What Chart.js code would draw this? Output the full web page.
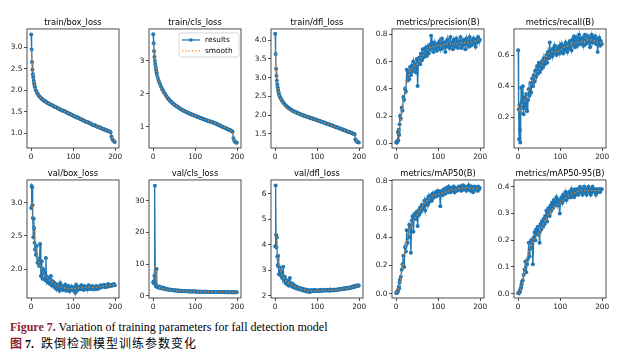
<!DOCTYPE html>
<html><head><meta charset="utf-8">
<script src="https://cdn.jsdelivr.net/npm/chart.js@4.4.1/dist/chart.umd.min.js"></script>
<style>
html,body{margin:0;padding:0;background:#fff;width:619px;height:357px;overflow:hidden;position:relative;}
canvas{position:absolute;}
.cap{position:absolute;white-space:nowrap;color:#000;}
</style></head><body>
<div class="cap" style="left:10px;top:320px;font-family:'Liberation Serif';font-size:12px;line-height:14px;"><span style="color:#8b1e2e;font-weight:bold">Figure 7.</span> Variation of training parameters for fall detection model</div>
<div class="cap" style="left:10px;top:336px;font-size:12px;line-height:14px;"><span style="color:#8b1e2e;font-weight:bold;font-family:'Noto Sans CJK SC'">图</span> <b style="font-family:'Liberation Serif'">7.</b><span style="display:inline-block;width:7px"></span><span style="font-family:'Noto Sans CJK SC';letter-spacing:1px">跌倒检测模型训练参数变化</span></div>
<script>
// ---------------- DATA ----------------
const epochs = [0,1,2,3,4,5,6,7,8,9,
 11,13,15,17,19,21,23,25,27,29,31,33,35,37,39,41,43,45,47,49,
 51,53,55,57,59,61,63,65,67,69,71,73,75,77,79,81,83,85,87,89,91,93,95,97,99,
 101,103,105,107,109,111,113,115,117,119,121,123,125,127,129,131,133,135,137,139,141,143,145,147,149,
 151,153,155,157,159,161,163,165,167,169,171,173,175,177,179,181,183,185,187,189,
 191,193,195,197,199];
const smoothEpochs = [0,2,4,6,8,10,15,20,25,30,40,50,60,70,80,90,100,110,120,130,140,150,160,170,180,187,190,193,196,199];
const xTicks = [0,100,200];
const seriesNames = ['results','smooth'];
const titles = ['train/box_loss','train/cls_loss','train/dfl_loss','metrics/precision(B)','metrics/recall(B)',
                'val/box_loss','val/cls_loss','val/dfl_loss','metrics/mAP50(B)','metrics/mAP50-95(B)'];

const trainBoxLoss = [3.30,2.95,2.66,2.48,2.37,2.30,2.22,2.16,2.11,2.07,
 2.00,1.96,1.92,1.89,1.86,1.84,1.82,1.80,1.78,1.77,1.75,1.74,1.73,1.71,1.70,1.69,1.68,1.67,1.66,1.65,
 1.64,1.63,1.62,1.61,1.60,1.59,1.58,1.57,1.56,1.55,1.54,1.53,1.52,1.52,1.51,1.50,1.49,1.48,1.47,1.46,1.45,1.44,1.43,1.42,1.41,
 1.40,1.39,1.38,1.37,1.36,1.36,1.35,1.34,1.33,1.32,1.31,1.30,1.29,1.28,1.27,1.26,1.26,1.25,1.24,1.23,1.22,1.21,1.20,1.19,1.18,
 1.18,1.17,1.16,1.15,1.14,1.14,1.13,1.12,1.11,1.10,1.09,1.09,1.08,1.07,1.06,1.06,1.05,1.04,1.03,1.02,
 0.92,0.86,0.83,0.81,0.79];
const trainClsLoss = [3.81,3.54,3.30,3.12,3.00,2.90,2.80,2.72,2.65,2.58,
 2.48,2.40,2.33,2.27,2.21,2.16,2.11,2.06,2.02,1.98,1.94,1.90,1.87,1.84,1.81,1.78,1.76,1.73,1.71,1.69,
 1.67,1.65,1.63,1.61,1.60,1.58,1.56,1.55,1.53,1.52,1.50,1.49,1.48,1.46,1.45,1.44,1.43,1.42,1.40,1.39,1.38,1.37,1.36,1.35,1.34,
 1.33,1.32,1.31,1.30,1.29,1.28,1.27,1.26,1.25,1.24,1.23,1.22,1.21,1.20,1.19,1.18,1.17,1.16,1.16,1.15,1.14,1.13,1.12,1.11,1.10,
 1.09,1.08,1.06,1.05,1.04,1.03,1.02,1.00,0.99,0.98,0.97,0.96,0.95,0.93,0.92,0.91,0.90,0.89,0.87,0.85,
 0.66,0.58,0.55,0.53,0.52];
const trainDflLoss = [4.17,3.63,3.24,3.05,2.92,2.82,2.74,2.67,2.61,2.56,
 2.50,2.45,2.41,2.37,2.34,2.31,2.28,2.26,2.24,2.22,2.20,2.18,2.17,2.15,2.14,2.12,2.11,2.10,2.09,2.08,
 2.07,2.06,2.05,2.04,2.03,2.02,2.01,2.00,1.99,1.99,1.98,1.97,1.96,1.95,1.95,1.94,1.93,1.92,1.92,1.91,1.90,1.89,1.89,1.88,1.87,
 1.86,1.85,1.85,1.84,1.83,1.82,1.81,1.81,1.80,1.79,1.78,1.77,1.77,1.76,1.75,1.74,1.73,1.73,1.72,1.71,1.70,1.69,1.68,1.68,1.67,
 1.66,1.65,1.64,1.63,1.62,1.62,1.61,1.60,1.59,1.58,1.57,1.56,1.55,1.55,1.54,1.53,1.52,1.51,1.50,1.49,
 1.36,1.31,1.29,1.28,1.27];
const precision = [0.005,0.012,0.004,0.015,0.080,0.020,0.100,0.060,0.140,0.200,
 0.18,0.26,0.24,0.34,0.32,0.40,0.38,0.54,0.46,0.52,0.47,0.56,0.50,0.57,0.53,0.60,0.55,0.58,0.52,0.62,
 0.42,0.60,0.63,0.58,0.66,0.61,0.69,0.63,0.66,0.70,0.64,0.68,0.71,0.66,0.72,0.69,0.79,0.70,0.73,0.67,0.74,0.70,0.72,0.68,0.73,
 0.71,0.75,0.69,0.73,0.77,0.70,0.74,0.72,0.67,0.75,0.71,0.76,0.73,0.70,0.78,0.72,0.74,0.69,0.76,0.73,0.71,0.77,0.74,0.70,0.75,
 0.73,0.78,0.70,0.75,0.72,0.76,0.74,0.69,0.77,0.73,0.75,0.71,0.78,0.74,0.72,0.76,0.73,0.77,0.75,0.71,
 0.76,0.74,0.78,0.75,0.76];
const recall = [0.63,0.25,0.06,0.28,0.12,0.04,0.23,0.39,0.30,0.26,
 0.40,0.22,0.33,0.26,0.35,0.24,0.31,0.38,0.34,0.42,0.36,0.45,0.40,0.47,0.43,0.50,0.46,0.53,0.48,0.55,
 0.49,0.54,0.51,0.56,0.52,0.58,0.54,0.57,0.60,0.55,0.62,0.58,0.68,0.60,0.63,0.59,0.64,0.61,0.66,0.62,0.60,0.65,0.63,0.61,0.66,
 0.62,0.67,0.64,0.61,0.66,0.63,0.68,0.65,0.62,0.67,0.64,0.69,0.66,0.63,0.70,0.67,0.72,0.65,0.68,0.71,0.66,0.69,0.73,0.67,0.70,
 0.68,0.71,0.66,0.70,0.73,0.67,0.69,0.72,0.68,0.71,0.65,0.70,0.73,0.68,0.71,0.69,0.72,0.67,0.70,0.62,
 0.68,0.71,0.66,0.69,0.67];
const valBoxLoss = [2.92,3.25,3.23,2.96,2.77,2.48,2.76,2.62,2.40,2.30,
 2.22,2.35,2.10,2.15,2.05,2.38,1.90,2.12,1.86,2.00,1.95,1.84,2.17,1.82,1.88,1.80,1.85,1.78,1.90,1.76,
 1.82,1.75,1.80,1.72,1.78,1.70,1.76,1.74,1.68,1.79,1.71,1.75,1.69,1.74,1.72,1.77,1.68,1.73,1.70,1.75,1.67,1.72,1.69,1.74,1.70,
 1.68,1.73,1.65,1.77,1.71,1.69,1.74,1.72,1.70,1.76,1.71,1.73,1.69,1.75,1.72,1.70,1.74,1.71,1.76,1.72,1.70,1.73,1.75,1.71,1.74,
 1.72,1.70,1.75,1.73,1.71,1.74,1.72,1.76,1.73,1.75,1.74,1.77,1.75,1.73,1.76,1.74,1.78,1.75,1.77,1.76,
 1.75,1.77,1.76,1.78,1.76];
const valClsLoss = [4.2,4.5,3.9,6.4,34.8,4.1,3.5,2.9,8.5,3.0,
 2.8,2.6,2.9,2.4,2.5,2.3,2.6,2.2,2.4,2.1,2.2,2.0,2.1,1.9,2.0,1.9,1.8,1.9,1.8,1.7,
 1.75,1.7,1.65,1.7,1.6,1.65,1.55,1.6,1.55,1.5,1.55,1.5,1.45,1.5,1.45,1.4,1.45,1.4,1.38,1.42,1.36,1.4,1.35,1.38,1.34,
 1.33,1.35,1.3,1.32,1.29,1.3,1.27,1.29,1.26,1.28,1.25,1.26,1.24,1.25,1.23,1.24,1.22,1.23,1.21,1.22,1.2,1.21,1.19,1.2,1.19,
 1.18,1.19,1.17,1.18,1.17,1.17,1.16,1.17,1.16,1.16,1.15,1.16,1.15,1.15,1.14,1.15,1.14,1.14,1.13,1.14,
 1.13,1.12,1.12,1.11,1.11];
const valDflLoss = [3.95,6.33,4.40,3.90,4.30,3.55,3.20,3.58,3.15,2.85,
 3.10,2.80,2.95,2.70,3.15,2.60,2.75,2.50,2.62,2.45,2.58,2.40,2.70,2.42,2.50,2.36,2.45,2.33,2.40,2.30,
 2.36,2.28,2.33,2.26,2.30,2.24,2.29,2.22,2.27,2.20,2.25,2.19,2.24,2.17,2.22,2.20,2.16,2.23,2.19,2.21,2.18,2.24,2.20,2.22,2.19,
 2.21,2.18,2.23,2.20,2.24,2.19,2.22,2.21,2.23,2.20,2.22,2.24,2.21,2.23,2.20,2.25,2.22,2.24,2.21,2.23,2.25,2.22,2.24,2.23,2.26,
 2.24,2.27,2.25,2.28,2.26,2.29,2.27,2.30,2.28,2.31,2.29,2.32,2.30,2.33,2.31,2.35,2.33,2.36,2.38,2.35,
 2.40,2.38,2.42,2.39,2.41];
const mAP50 = [0.005,0.010,0.008,0.020,0.015,0.030,0.050,0.040,0.080,0.100,
 0.12,0.17,0.21,0.27,0.19,0.33,0.30,0.45,0.36,0.40,0.49,0.47,0.29,0.52,0.55,0.44,0.54,0.57,0.53,0.58,
 0.48,0.59,0.56,0.61,0.58,0.63,0.60,0.62,0.66,0.59,0.64,0.67,0.63,0.69,0.65,0.68,0.70,0.66,0.71,0.68,0.70,0.72,0.69,0.71,0.73,
 0.70,0.72,0.62,0.71,0.73,0.70,0.74,0.72,0.71,0.75,0.73,0.72,0.76,0.74,0.72,0.75,0.73,0.74,0.76,0.72,0.75,0.74,0.73,0.75,0.76,
 0.74,0.76,0.73,0.75,0.77,0.74,0.76,0.75,0.73,0.76,0.74,0.77,0.75,0.73,0.76,0.74,0.72,0.75,0.76,0.74,
 0.75,0.73,0.76,0.74,0.75];
const mAP5095 = [0.002,0.004,0.003,0.008,0.006,0.015,0.020,0.025,0.035,0.045,
 0.05,0.07,0.09,0.12,0.08,0.11,0.13,0.19,0.14,0.17,0.20,0.19,0.11,0.21,0.23,0.20,0.24,0.22,0.25,0.23,
 0.19,0.26,0.24,0.27,0.25,0.28,0.26,0.29,0.31,0.27,0.30,0.32,0.29,0.33,0.31,0.34,0.32,0.35,0.33,0.34,0.36,0.33,0.35,0.34,0.30,
 0.35,0.36,0.34,0.37,0.35,0.36,0.38,0.35,0.37,0.36,0.38,0.37,0.36,0.39,0.37,0.38,0.36,0.39,0.37,0.38,0.39,0.37,0.38,0.40,0.38,
 0.39,0.37,0.38,0.40,0.38,0.39,0.37,0.39,0.40,0.38,0.39,0.37,0.38,0.40,0.39,0.38,0.39,0.37,0.38,0.39,
 0.38,0.39,0.38,0.39,0.39];

const smTrainBox = [2.95,2.72,2.45,2.27,2.14,2.05,1.93,1.85,1.80,1.76,1.70,1.645,1.60,1.55,1.50,1.455,1.405,1.36,1.315,1.27,1.225,1.18,1.14,1.10,1.06,1.02,0.97,0.89,0.83,0.80];
const smTrainCls = [3.55,3.33,3.03,2.81,2.66,2.53,2.31,2.15,2.02,1.93,1.78,1.68,1.59,1.51,1.45,1.39,1.335,1.285,1.235,1.19,1.145,1.10,1.045,0.985,0.93,0.87,0.78,0.64,0.56,0.53];
const smTrainDfl = [3.75,3.40,3.00,2.76,2.63,2.53,2.38,2.28,2.21,2.16,2.10,2.07,2.02,1.98,1.94,1.91,1.87,1.83,1.79,1.75,1.71,1.665,1.62,1.58,1.535,1.49,1.44,1.34,1.29,1.28];
const smPrecision = [0.02,0.03,0.05,0.08,0.12,0.16,0.26,0.37,0.45,0.50,0.56,0.58,0.63,0.67,0.70,0.71,0.72,0.72,0.73,0.73,0.73,0.735,0.74,0.74,0.745,0.75,0.75,0.755,0.76,0.76];
const smRecall = [0.27,0.25,0.23,0.25,0.28,0.30,0.30,0.33,0.38,0.41,0.47,0.51,0.56,0.60,0.62,0.62,0.63,0.65,0.66,0.67,0.68,0.685,0.69,0.70,0.69,0.685,0.68,0.68,0.68,0.68];
const smValBox = [3.05,3.00,2.85,2.65,2.48,2.35,2.17,2.07,2.00,1.94,1.86,1.81,1.76,1.74,1.72,1.71,1.71,1.72,1.725,1.73,1.73,1.73,1.735,1.745,1.755,1.76,1.76,1.765,1.765,1.765];
const smValCls = [5.5,8.0,9.5,8.5,6.0,4.0,2.6,2.35,2.15,2.0,1.85,1.72,1.6,1.5,1.43,1.38,1.33,1.29,1.25,1.22,1.2,1.18,1.165,1.155,1.145,1.135,1.13,1.12,1.115,1.11];
const smValDfl = [4.6,4.5,4.1,3.6,3.3,3.1,2.88,2.72,2.6,2.52,2.43,2.35,2.28,2.23,2.2,2.2,2.205,2.21,2.22,2.225,2.23,2.24,2.27,2.3,2.33,2.36,2.37,2.39,2.4,2.4];
const smMAP50 = [0.01,0.015,0.025,0.04,0.065,0.09,0.19,0.29,0.37,0.44,0.51,0.56,0.61,0.65,0.68,0.70,0.705,0.715,0.725,0.735,0.74,0.745,0.75,0.75,0.745,0.745,0.745,0.745,0.745,0.745];
const smMAP5095 = [0.004,0.006,0.01,0.017,0.028,0.04,0.08,0.12,0.155,0.18,0.21,0.23,0.26,0.29,0.315,0.33,0.34,0.355,0.365,0.375,0.38,0.385,0.385,0.385,0.385,0.385,0.385,0.385,0.385,0.385];

const yTicksTrainBox = [1.0,1.5,2.0,2.5,3.0];
const yTicksTrainCls = [1,2,3];
const yTicksTrainDfl = [1.5,2.0,2.5,3.0,3.5,4.0];
const yTicksPrecision = [0.0,0.2,0.4,0.6,0.8];
const yTicksRecall = [0.2,0.4,0.6];
const yTicksValBox = [2.0,2.5,3.0];
const yTicksValCls = [0,10,20,30];
const yTicksValDfl = [2,3,4,5,6];
const yTicksMAP50 = [0.0,0.2,0.4,0.6,0.8];
const yTicksMAP5095 = [0.0,0.1,0.2,0.3,0.4];
const yDecimals = [1,0,1,1,1,1,0,0,1,1];

// ---------------- LAYOUT / STYLE ----------------
const panelValues = [trainBoxLoss,trainClsLoss,trainDflLoss,precision,recall,valBoxLoss,valClsLoss,valDflLoss,mAP50,mAP5095];
const panelSmooth = [smTrainBox,smTrainCls,smTrainDfl,smPrecision,smRecall,smValBox,smValCls,smValDfl,smMAP50,smMAP5095];
const panelTicks = [yTicksTrainBox,yTicksTrainCls,yTicksTrainDfl,yTicksPrecision,yTicksRecall,yTicksValBox,yTicksValCls,yTicksValDfl,yTicksMAP50,yTicksMAP5095];
const yRanges = [[0.65,3.43],[0.36,3.97],[1.125,4.30],[-0.035,0.84],[0.004,0.767],
                 [1.57,3.34],[-0.7,36.6],[1.92,6.55],[-0.03,0.807],[-0.016,0.425]];
const LEFTS = [27,149,271,392,514], PW = 92, TOPS = [29,180], PHS = [119,118];
const YAX = 30, TOPB = 22, BOTB = 16, PADR = 10;
const BLUE = '#1f77b4', ORANGE = '#ff7f0e', INK = '#222';
const FONT = 'DejaVu Sans';

const framePlugin = {id:'frame', afterDraw(c){
  const a = c.chartArea, ctx = c.ctx;
  ctx.save(); ctx.strokeStyle = INK; ctx.lineWidth = 0.8;
  ctx.strokeRect(a.left, a.top, a.right - a.left, a.bottom - a.top);
  ctx.restore();
}};
const legendPlugin = {id:'lgbox', afterDraw(c){
  const a = c.chartArea, ctx = c.ctx;
  const w = 60, h = 24, x0 = a.right - w - 2, y0 = a.top + 4;
  ctx.save();
  ctx.fillStyle = 'rgba(255,255,255,0.85)'; ctx.strokeStyle = '#cccccc'; ctx.lineWidth = 0.8;
  ctx.beginPath(); ctx.roundRect(x0, y0, w, h, 2); ctx.fill(); ctx.stroke();
  let ry = y0 + 7;
  ctx.strokeStyle = BLUE; ctx.lineWidth = 1.3;
  ctx.beginPath(); ctx.moveTo(x0 + 3, ry); ctx.lineTo(x0 + 21, ry); ctx.stroke();
  ctx.fillStyle = BLUE; ctx.beginPath(); ctx.arc(x0 + 12, ry, 1.8, 0, Math.PI * 2); ctx.fill();
  ctx.fillStyle = '#000'; ctx.font = '7.4px "DejaVu Sans"'; ctx.textBaseline = 'middle';
  ctx.fillText(seriesNames[0], x0 + 26, ry);
  ry = y0 + 18;
  ctx.strokeStyle = ORANGE; ctx.setLineDash([1.3, 2]);
  ctx.beginPath(); ctx.moveTo(x0 + 3, ry); ctx.lineTo(x0 + 21, ry); ctx.stroke(); ctx.setLineDash([]);
  ctx.fillText(seriesNames[1], x0 + 26, ry);
  ctx.restore();
}};

panelValues.forEach((vals, i) => {
  const col = i % 5, row = Math.floor(i / 5);
  const cw = YAX + PW + PADR, ch = TOPB + PHS[row] + BOTB;
  const cv = document.createElement('canvas');
  cv.width = cw; cv.height = ch;
  cv.style.left = (LEFTS[col] - YAX) + 'px'; cv.style.top = (TOPS[row] - TOPB) + 'px';
  cv.style.width = cw + 'px'; cv.style.height = ch + 'px';
  document.body.appendChild(cv);
  const ticksY = panelTicks[i], dec = yDecimals[i];
  const plugins = [framePlugin];
  if (i === 1) plugins.push(legendPlugin);
  new Chart(cv, {
    type: 'line',
    data: {datasets: [
      {label: seriesNames[1], data: smoothEpochs.map((e, k) => ({x: e, y: panelSmooth[i][k]})),
       borderColor: ORANGE, borderWidth: 1.3, borderDash: [1.3, 2.2], pointRadius: 0,
       cubicInterpolationMode: 'monotone', order: 0},
      {label: seriesNames[0], data: epochs.map((e, k) => ({x: e, y: vals[k]})),
       borderColor: BLUE, backgroundColor: BLUE, borderWidth: 1.3, pointRadius: 2,
       pointBorderWidth: 0, pointBackgroundColor: BLUE, tension: 0, order: 1}
    ]},
    options: {
      responsive: false, animation: false, devicePixelRatio: 1,
      layout: {padding: {left: 0, right: PADR, top: 0, bottom: 0}},
      plugins: {
        legend: {display: false}, tooltip: {enabled: false},
        title: {display: true, fullSize: false, text: titles[i], color: '#000', font: {family: FONT, size: 8.3, weight: 'normal', lineHeight: 1.2}, padding: {top: 10.5, bottom: 1.5}}
      },
      scales: {
        x: {type: 'linear', min: -10, max: 209, bounds: 'data',
            afterBuildTicks: s => { s.ticks = xTicks.map(v => ({value: v})); },
            afterFit: s => { s.height = BOTB; },
            ticks: {font: {family: FONT, size: 7.4}, color: INK, padding: 1.5, maxRotation: 0, autoSkip: false, callback: v => String(v)},
            grid: {display: true, drawOnChartArea: false, drawTicks: true, tickLength: 3, tickColor: INK, tickWidth: 0.8},
            border: {display: false}},
        y: {type: 'linear', min: yRanges[i][0], max: yRanges[i][1], bounds: 'data',
            afterBuildTicks: s => { s.ticks = ticksY.map(v => ({value: v})); },
            afterFit: s => { s.width = YAX; },
            ticks: {font: {family: FONT, size: 7.4}, color: INK, padding: 1.5, autoSkip: false, callback: v => Number(v).toFixed(dec)},
            grid: {display: true, drawOnChartArea: false, drawTicks: true, tickLength: 3, tickColor: INK, tickWidth: 0.8},
            border: {display: false}}
      }
    },
    plugins: plugins
  });
});
</script>
</body></html>
